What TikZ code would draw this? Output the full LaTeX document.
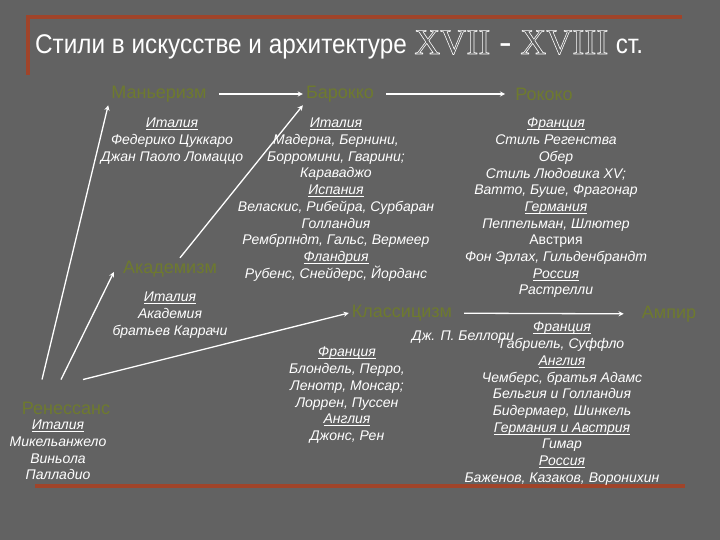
\documentclass[tikz,border=0pt]{standalone}
\usepackage{fontspec}
\setmainfont{Liberation Sans}
\newfontfamily\romanfont{Liberation Serif}
\definecolor{slidegrey}{RGB}{98,98,98}
\definecolor{framered}{RGB}{160,68,42}
\definecolor{styleolive}{RGB}{110,122,46}
\newcommand{\cntry}[1]{\leavevmode\setbox0=\hbox{#1}\rlap{\rule[-2.2pt]{\wd0}{0.8pt}}\box0}
\newcommand{\hollow}[1]{\special{pdf:literal direct 1 Tr 0.6 w}#1\special{pdf:literal direct 0 Tr}}
\tikzset{
  stylename/.style={text=styleolive, font=\fontsize{18}{20}\selectfont, inner sep=3pt},
  artists/.style={text=white, align=center, anchor=north, inner sep=0pt,
                  font=\fontsize{14}{16.7}\selectfont\itshape},
  flow/.style={->, >=stealth, white, line width=1.3pt},
  framebar/.style={framered, line width=3.5pt}
}
\begin{document}
\begin{tikzpicture}[x=1pt, y=-1pt]
    \fill [slidegrey] (0,0) rectangle (720,540);
    \draw [framebar] (28,75) -- (28,17) -- (682,17);
    \draw [framebar] (35,486) -- (685,486);

    \node (title) [anchor=west, text=white, inner sep=0pt] at (35,45)
        {\fontsize{27}{30}\selectfont\scalebox{0.9}[1]{Стили в искусстве и архитектуре}\
         {\romanfont\fontsize{36}{38}\selectfont\hollow{XVII}~-~\hollow{XVIII}}\ \scalebox{0.9}[1]{ст.}};

    \node (mann)    [stylename] at (159,94)  {Маньеризм};
    \node (baroque) [stylename] at (340,94)  {Барокко};
    \node (rococo)  [stylename] at (544,94)  {Рококо};
    \node (akad)    [stylename] at (170,269) {Академизм};
    \node (klass)   [stylename] at (402,313) {Классицизм};
    \node (empire)  [stylename] at (669,314) {Ампир};
    \node (ren)     [stylename] at (66,408)  {Ренессанс};

    \node (mannText) [artists] at (172,118)
        {\cntry{Италия}\\Федерико Цуккаро\\Джан Паоло Ломаццо};
    \node (baroqueText) [artists] at (336,118)
        {\cntry{Италия}\\Мадерна, Бернини,\\Борромини, Гварини;\\Караваджо\\
         \cntry{Испания}\\Веласкис, Рибейра, Сурбаран\\Голландия\\
         Рембрпндт, Гальс, Вермеер\\\cntry{Фландрия}\\Рубенс, Снейдерс, Йорданс};
    \node (rococoText) [artists] at (556,118)
        {\cntry{Франция}\\Стиль Регенства\\Обер\\Стиль Людовика XV;\\
         Ватто, Буше, Фрагонар\\\cntry{Германия}\\Пеппельман, Шлютер\\
         {\upshape Австрия}\\Фон Эрлах, Гильденбрандт\\\cntry{Россия}\\Растрелли};
    \node (akadText) [artists] at (170,292)
        {\cntry{Италия}\\Академия\\братьев Каррачи};
    \node (renText) [artists] at (58,420)
        {\cntry{Италия}\\Микельанжело\\Виньола\\Палладио};
    \node (klassText) [artists] at (347,347)
        {\cntry{Франция}\\Блондель, Перро,\\Ленотр, Монсар;\\Лоррен, Пуссен\\
         \cntry{Англия}\\Джонс, Рен};
    \node (bellori) [artists, anchor=center] at (463,337) {Дж. П. Беллори};
    \node (empireText) [artists] at (562,322)
        {\cntry{Франция}\\Габриель, Суффло\\\cntry{Англия}\\Чемберс, братья Адамс\\
         Бельгия и Голландия\\Бидермаер, Шинкель\\\cntry{Германия и Австрия}\\
         Гимар\\\cntry{Россия}\\Баженов, Казаков, Воронихин};

    \path [flow, shorten <=9pt] (mann) edge (baroque)
              (baroque) edge [shorten >=7pt] (rococo)
              (klass) edge [shorten >=15pt] (empire);
    \path [flow] ([xshift=-24pt,yshift=19pt]ren.north) edge (mann.south west)
              ([xshift=-5pt,yshift=19pt]ren.north) edge ([xshift=-6pt,yshift=-3pt]akad.west)
              ([xshift=17pt,yshift=19pt]ren.north) edge (klass.west)
              ([xshift=10pt]akad.north) edge (baroque.south west);
\end{tikzpicture}
\end{document}
